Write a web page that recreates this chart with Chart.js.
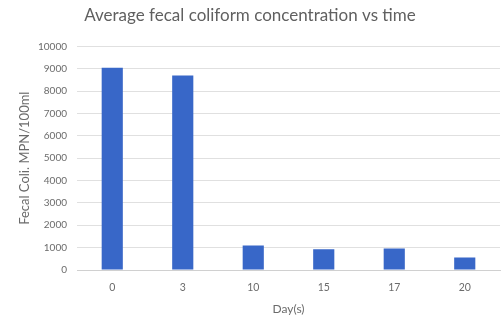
<!DOCTYPE html>
<html>
<head>
<meta charset="utf-8">
<script src="https://cdn.jsdelivr.net/npm/chart.js@4"></script>
<style>
  html, body { margin: 0; padding: 0; background: #fff; }
  #wrap { width: 502px; height: 322px; position: relative; }
</style>
</head>
<body>
<div id="wrap"><canvas id="bar-chart"></canvas></div>
<script>
// data
var days = ['0', '3', '10', '15', '17', '20'];
var coliform = [9050, 8700, 1100, 930, 960, 560];
var yTicks = [0, 1000, 2000, 3000, 4000, 5000, 6000, 7000, 8000, 9000, 10000];

var grey = '#6b6b6b';
var font = 'Lato, "Open Sans", sans-serif';

var ctx = document.getElementById('bar-chart');
var barChart = new Chart(ctx, {
    type: 'bar',
    data: {
        labels: days,
        datasets: [{
            label: 'Fecal coliform',
            data: coliform,
            backgroundColor: '#3867c8',
            borderWidth: 0,
            barPercentage: 1,
            categoryPercentage: 0.3
        }]
    },
    options: {
        responsive: true,
        maintainAspectRatio: false,
        animation: false,
        layout: { padding: { left: 0, right: 2, top: 0, bottom: 0 } },
        plugins: {
            legend: { display: false },
            tooltip: { enabled: false },
            title: {
                display: true,
                text: 'Average fecal coliform concentration vs time',
                color: '#606060',
                font: { family: font, size: 17, weight: 'normal' },
                padding: { top: 5, bottom: 21 }
            }
        },
        scales: {
            x: {
                offset: true,
                grid: { display: false, drawTicks: false },
                border: { display: true, color: '#d0d0d0' },
                ticks: { color: grey, font: { family: font, size: 10.5 }, padding: 11 },
                title: {
                    display: true,
                    text: 'Day(s)',
                    color: grey,
                    font: { family: font, size: 12 },
                    padding: { top: 0, bottom: 6 }
                },
                afterFit: function(scale) { scale.height = 52; }
            },
            y: {
                min: 0,
                max: 10000,
                afterBuildTicks: function(scale) {
                    scale.ticks = yTicks.map(function(v) { return { value: v }; });
                },
                grid: { color: '#e0e0e0', drawTicks: false },
                border: { display: false },
                ticks: {
                    color: grey,
                    font: { family: font, size: 10 },
                    padding: 10,
                    callback: function(v) { return String(v); }
                },
                title: {
                    display: true,
                    text: 'Fecal Coli. MPN/100ml',
                    color: grey,
                    font: { family: font, size: 13 },
                    padding: { top: 17, bottom: 0 }
                },
                afterFit: function(scale) { scale.width = 77; }
            }
        }
    }
});
</script>
</body>
</html>
